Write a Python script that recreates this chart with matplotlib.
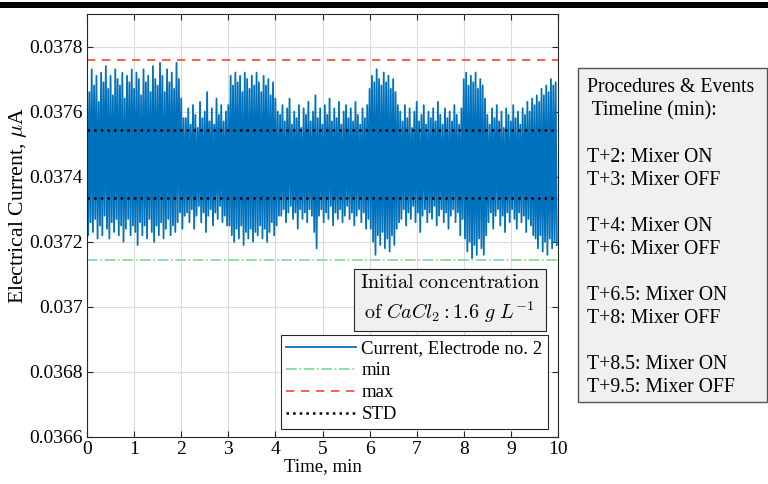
import numpy as np
import matplotlib
matplotlib.use("Agg")
import matplotlib.pyplot as plt
from matplotlib.patches import Rectangle

plt.rcParams['font.family'] = ['Liberation Serif', 'DejaVu Serif']
plt.rcParams['mathtext.fontset'] = 'cm'

# current trace, read off the picture as successive peaks / troughs (uA)
# one peak + one trough every 0.05 min, 0 .. 10 min
current_peaks = [
    # 0 - 2.1 min
    0.03770, 0.03766, 0.03773, 0.03768, 0.03771, 0.03763, 0.03772, 0.03769, 0.03774, 0.03767,
    0.03771, 0.03765, 0.03773, 0.03770, 0.03768, 0.03772, 0.03764, 0.03771, 0.03769, 0.03773,
    0.03767, 0.03772, 0.03770, 0.03765, 0.03773, 0.03769, 0.03771, 0.03766, 0.03774, 0.03770,
    0.03768, 0.03775, 0.03771, 0.03766, 0.03773, 0.03769, 0.03772, 0.03767, 0.03775, 0.03770,
    0.03764, 0.03758,
    # 2.1 - 3
    0.03758, 0.03761, 0.03756, 0.03762, 0.03759, 0.03755, 0.03763, 0.03758, 0.03760, 0.03766,
    0.03757, 0.03761, 0.03756, 0.03764, 0.03759, 0.03762, 0.03757, 0.03760,
    # 3 - 4.1
    0.03762, 0.03771, 0.03768, 0.03772, 0.03769, 0.03771, 0.03766, 0.03772, 0.03770, 0.03767,
    0.03771, 0.03768, 0.03772, 0.03769, 0.03766, 0.03771, 0.03768, 0.03770, 0.03765, 0.03769,
    0.03764, 0.03760,
    # 4.1 - 6
    0.03759, 0.03762, 0.03757, 0.03761, 0.03764, 0.03756, 0.03760, 0.03758, 0.03762, 0.03755,
    0.03761, 0.03759, 0.03763, 0.03757, 0.03760, 0.03765, 0.03758, 0.03761, 0.03756, 0.03762,
    0.03759, 0.03764, 0.03757, 0.03761, 0.03758, 0.03763, 0.03756, 0.03760, 0.03762, 0.03758,
    0.03761, 0.03757, 0.03763, 0.03759, 0.03756, 0.03761, 0.03758, 0.03762,
    # 6 - 6.65
    0.03767, 0.03771, 0.03769, 0.03773, 0.03770, 0.03768, 0.03772, 0.03769, 0.03771, 0.03767,
    0.03770, 0.03766, 0.03762,
    # 6.65 - 8
    0.03760, 0.03757, 0.03762, 0.03758, 0.03761, 0.03755, 0.03760, 0.03763, 0.03757, 0.03759,
    0.03762, 0.03756, 0.03760, 0.03758, 0.03761, 0.03757, 0.03763, 0.03759, 0.03756, 0.03761,
    0.03758, 0.03760, 0.03757, 0.03762, 0.03759, 0.03756, 0.03761,
    # 8 - 8.5
    0.03770, 0.03772, 0.03768, 0.03771, 0.03769, 0.03772, 0.03767, 0.03770, 0.03768, 0.03764,
    # 8.5 - 9.5
    0.03759, 0.03756, 0.03761, 0.03758, 0.03762, 0.03757, 0.03760, 0.03755, 0.03761, 0.03759,
    0.03757, 0.03762, 0.03758, 0.03760, 0.03756, 0.03761, 0.03759, 0.03763, 0.03760, 0.03764,
    # 9.5 - 10
    0.03762, 0.03765, 0.03763, 0.03767, 0.03765, 0.03768, 0.03766, 0.03770, 0.03768, 0.03769,
]
current_troughs = [
    0.03722, 0.03726, 0.03723, 0.03727, 0.03721, 0.03725, 0.03722, 0.03728, 0.03724, 0.03721,
    0.03726, 0.03723, 0.03727, 0.03722, 0.03725, 0.03720, 0.03724, 0.03727, 0.03722, 0.03725,
    0.03723, 0.03719, 0.03726, 0.03722, 0.03725, 0.03721, 0.03727, 0.03723, 0.03720, 0.03725,
    0.03722, 0.03726, 0.03721, 0.03724, 0.03727, 0.03722, 0.03725, 0.03723, 0.03726, 0.03729,
    0.03724, 0.03728,
    0.03729, 0.03726, 0.03730, 0.03724, 0.03728, 0.03731, 0.03726, 0.03729, 0.03723, 0.03728,
    0.03730, 0.03725, 0.03729, 0.03727, 0.03731, 0.03726, 0.03728, 0.03725,
    0.03725, 0.03722, 0.03720, 0.03724, 0.03721, 0.03725, 0.03719, 0.03723, 0.03721, 0.03724,
    0.03720, 0.03723, 0.03722, 0.03725, 0.03721, 0.03724, 0.03720, 0.03723, 0.03726, 0.03722,
    0.03725, 0.03728,
    0.03728, 0.03730, 0.03726, 0.03729, 0.03731, 0.03727, 0.03729, 0.03724, 0.03730, 0.03727,
    0.03729, 0.03726, 0.03730, 0.03728, 0.03723, 0.03718, 0.03728, 0.03730, 0.03726, 0.03729,
    0.03727, 0.03731, 0.03725, 0.03729, 0.03727, 0.03730, 0.03726, 0.03728, 0.03731, 0.03727,
    0.03729, 0.03725, 0.03728, 0.03730, 0.03726, 0.03729, 0.03724, 0.03727,
    0.03724, 0.03720, 0.03716, 0.03722, 0.03719, 0.03723, 0.03718, 0.03721, 0.03717, 0.03722,
    0.03719, 0.03724, 0.03726,
    0.03727, 0.03730, 0.03725, 0.03729, 0.03727, 0.03731, 0.03726, 0.03729, 0.03723, 0.03728,
    0.03730, 0.03726, 0.03729, 0.03727, 0.03731, 0.03725, 0.03728, 0.03730, 0.03726, 0.03729,
    0.03724, 0.03728, 0.03730, 0.03726, 0.03729, 0.03722, 0.03727,
    0.03721, 0.03717, 0.03720, 0.03715, 0.03719, 0.03716, 0.03721, 0.03718, 0.03716, 0.03722,
    0.03726, 0.03729, 0.03724, 0.03728, 0.03730, 0.03725, 0.03728, 0.03723, 0.03729, 0.03726,
    0.03730, 0.03727, 0.03724, 0.03729, 0.03726, 0.03728, 0.03723, 0.03727, 0.03725, 0.03722,
    0.03721, 0.03718, 0.03722, 0.03717, 0.03720, 0.03716, 0.03721, 0.03718, 0.03720, 0.03719,
]
current_min = 0.037145
current_max = 0.037760
std_band = [0.037335, 0.037545]

events = [("T+2", "ON"), ("T+3", "OFF"), ("T+4", "ON"), ("T+6", "OFF"),
          ("T+6.5", "ON"), ("T+8", "OFF"), ("T+8.5", "ON"), ("T+9.5", "OFF")]

# interleave peaks and troughs into one trace
n = len(current_peaks)
t = np.empty(2 * n)
y = np.empty(2 * n)
t[0::2] = np.arange(n) * 0.05
t[1::2] = np.arange(n) * 0.05 + 0.025
y[0::2] = current_peaks
y[1::2] = current_troughs

fig = plt.figure(figsize=(7.68, 4.84), dpi=100)
ax = fig.add_axes([87 / 768, 1 - 437 / 484, 471 / 768, 423 / 484])

ax.plot(t, y, color='#0072BD', lw=1.3, label='Current, Electrode no. 2')
ax.axhline(current_min, color='#77DD99', ls='-.', lw=1.2, label='min')
ax.axhline(current_max, color='#FF4136', ls='--', lw=1.2, dashes=(5, 4), label='max')
ax.axhline(std_band[0], color='black', ls=':', lw=1.8, label='STD')
ax.axhline(std_band[1], color='black', ls=':', lw=1.8)

ax.set_xlim(0, 10)
ax.set_ylim(0.0366, 0.0379)
ax.set_xticks(range(0, 11))
ax.set_yticks([0.0366, 0.0368, 0.037, 0.0372, 0.0374, 0.0376, 0.0378])
ax.set_yticklabels(['0.0366', '0.0368', '0.037', '0.0372', '0.0374', '0.0376', '0.0378'])
ax.tick_params(direction='in', top=True, right=True, labelsize=14, length=4,
               color='#262626', pad=3)
ax.grid(True, color='#dcdcdc', lw=0.8)
ax.set_axisbelow(True)
for s in ax.spines.values():
    s.set_color('#262626')
    s.set_linewidth(0.8)

ax.set_xlabel('Time, min', fontsize=13.5, labelpad=0)
ax.set_ylabel(r'Electrical Current, $\mu$A', fontsize=15.7)
ax.yaxis.set_label_coords(-0.123, 0.546)

leg = ax.legend(loc='lower right', bbox_to_anchor=(0.979, 0.019), borderaxespad=0,
                fontsize=13.5, handlelength=3.7, handletextpad=0.3, labelspacing=0.26,
                borderpad=0.3, fancybox=False, edgecolor='#262626', framealpha=1)
leg.get_frame().set_linewidth(0.8)

ax.text(0.77, 0.325,
        r'$\mathrm{Initial\ concentration}$' + '\n' + r'$\mathrm{of}\ CaCl_2 : 1.6\ g\ L^{-1}$',
        transform=ax.transAxes, ha='center', va='center', fontsize=14.5, linespacing=1.3,
        bbox=dict(boxstyle='square,pad=0.3', facecolor='#f0f0f0', edgecolor='#262626', lw=0.8))

# side panel with timeline
fig.patches.append(Rectangle((578 / 768, 1 - 402 / 484), 189 / 768, 334 / 484,
                             transform=fig.transFigure, facecolor='#f0f0f0',
                             edgecolor='#555555', lw=1))
lines = ["Procedures & Events", " Timeline (min):"]
for i in range(0, len(events), 2):
    lines.append("")
    lines.append(f"{events[i][0]}: Mixer {events[i][1]}")
    lines.append(f"{events[i + 1][0]}: Mixer {events[i + 1][1]}")
fig.text(587 / 768, 1 - 78 / 484, "\n".join(lines), ha='left', va='top',
         fontsize=14.2, linespacing=1.29)

# black rule on top of the page
fig.patches.append(Rectangle((0, 1 - 8 / 484), 1, 6 / 484, transform=fig.transFigure,
                             facecolor='black', edgecolor='none'))

fig.savefig('out.png', dpi=100)
